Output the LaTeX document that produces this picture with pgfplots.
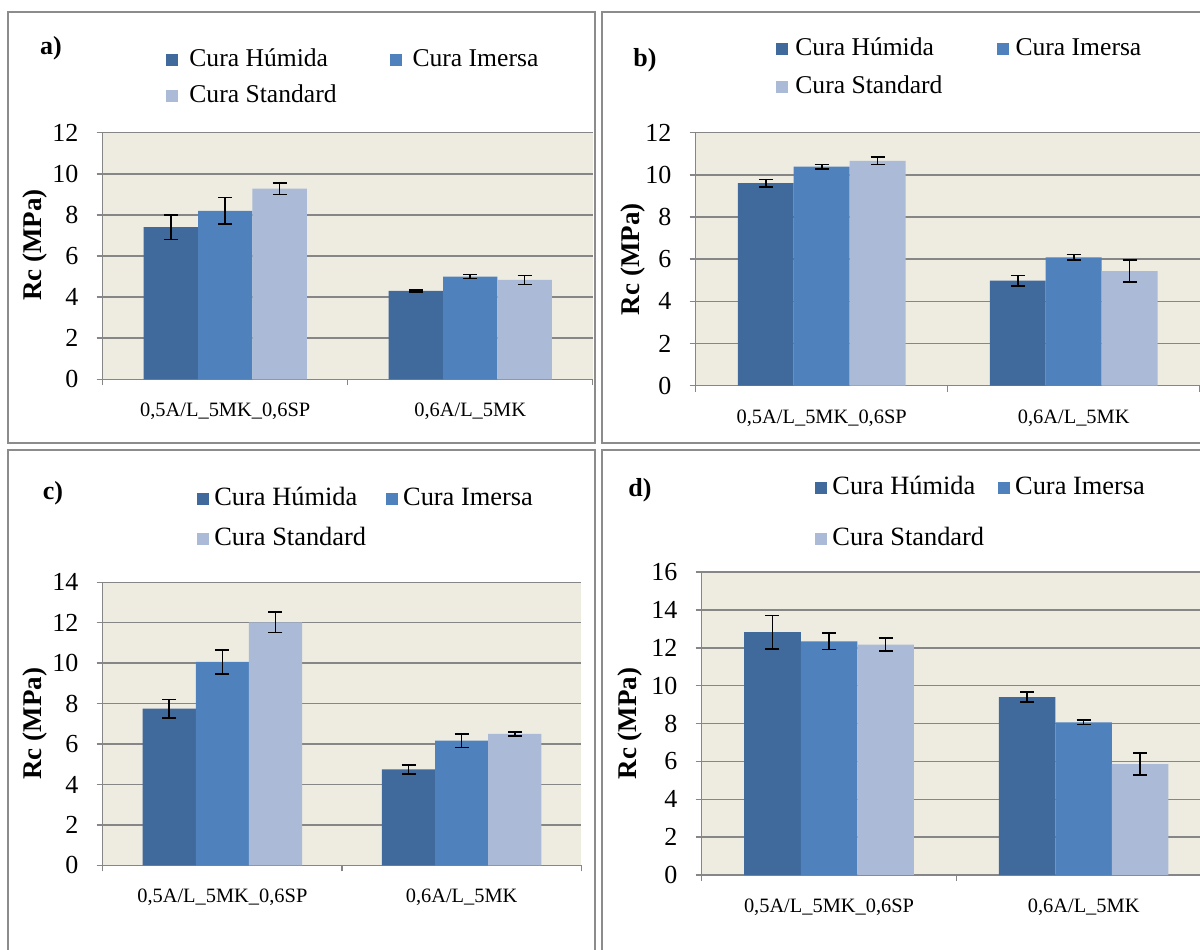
\documentclass[border=0pt]{standalone}
\usepackage{fontspec}
\setmainfont{Liberation Serif}
\usepackage{pgfplots}
\pgfplotsset{compat=1.18}
\definecolor{hum}{RGB}{64,105,156}
\definecolor{ime}{RGB}{79,129,189}
\definecolor{sta}{RGB}{170,186,215}
\definecolor{bgc}{RGB}{238,236,225}
\definecolor{gridc}{RGB}{134,134,134}
\definecolor{bord}{RGB}{140,140,140}
\pgfplotsset{
  panel/.style={
    scale only axis,
    ybar,
    xmin=-0.5, xmax=1.5, ymin=0,
    xtick={0,1},
    xticklabels={{0,5A/L\_5MK\_0,6SP},{0,6A/L\_5MK}},
    minor xtick={-0.5,0.5,1.5},
    major x tick style={draw=none},
    tick align=outside,
    major tick length=3pt, minor tick length=3pt,
    ytick distance=2,
    ymajorgrids,
    grid style={gridc, line width=0.75pt},
    axis x line*=bottom, axis y line*=left,
    axis line style={gridc, line width=0.75pt},
    tick style={gridc, line width=0.75pt},
    axis background/.style={fill=bgc},
    bar width=0.222,
    /pgf/number format/assume math mode=true,
    yticklabel style={font=\fontsize{13}{15}\selectfont, inner sep=0pt, xshift=-9pt},
    xticklabel style={font=\fontsize{10.2}{12}\selectfont, inner sep=0pt, anchor=north, yshift=-8.8pt},
    ylabel={\textbf{Rc (MPa)}},
    ylabel style={font=\fontsize{13.5}{15}\selectfont, anchor=center, rotate=0},
    error bars/y dir=both, error bars/y explicit,
    error bars/error bar style={black, line width=0.8pt},
    error bars/error mark options={black, rotate=90, mark size=3.5pt, line width=0.8pt},
    legend columns=2,
    legend cell align=left,
    legend image code/.code={\fill[##1] (0pt,0.3pt) rectangle (6pt,6.3pt);},
    legend style={draw=none, fill=none, inner sep=0pt, anchor=north west,
      font=\fontsize{12.8}{15}\selectfont,
      cells={anchor=base west},
      nodes={inner sep=0pt, text height=9pt, text depth=3pt}},
  },
  s1/.style={fill=hum, draw=none, bar shift=-0.222},
  s2/.style={fill=ime, draw=none, bar shift=0},
  s3/.style={fill=sta, draw=none, bar shift=0.222},
}
\begin{document}
\begin{tikzpicture}
\useasboundingbox (0,0) rectangle (600pt,-474.5pt);
\fill[white] (0,0) rectangle (600pt,-474.5pt);
\draw[bord, line width=0.75pt] (4pt,-6pt) rectangle (297.5pt,-221.5pt);
\draw[bord, line width=0.75pt] (301pt,-6pt) rectangle (606pt,-221.5pt);
\draw[bord, line width=0.75pt] (4pt,-225pt) rectangle (297.5pt,-480pt);
\draw[bord, line width=0.75pt] (301pt,-225pt) rectangle (606pt,-480pt);
\node[font=\fontsize{13}{15}\selectfont\bfseries] at (25.5pt,-24pt) {a)};
\node[font=\fontsize{13}{15}\selectfont\bfseries] at (322.5pt,-30pt) {b)};
\node[font=\fontsize{13}{15}\selectfont\bfseries] at (26.5pt,-246.5pt) {c)};
\node[font=\fontsize{13}{15}\selectfont\bfseries] at (320pt,-245pt) {d)};

% ---------- a ----------
\begin{axis}[panel, at={(51.35pt,-189.65pt)}, anchor=south west,
  width=245pt, height=123.3pt, ymax=12,
  ylabel style={at={(axis description cs:-0.139,0.545)}},
  legend style={at={(axis description cs:0.1292,1.3435)}, row sep=6pt,
    /tikz/every odd column/.append style={column sep=5.5pt},
    /tikz/every even column/.append style={column sep=26.5pt}}]
\addplot[s1] coordinates {(0,7.40) +- (0,0.60) (1,4.30) +- (0,0.04)};
\addplot[s2] coordinates {(0,8.20) +- (0,0.65) (1,5.00) +- (0,0.10)};
\addplot[s3] coordinates {(0,9.28) +- (0,0.28) (1,4.84) +- (0,0.22)};
\legend{Cura Húmida, Cura Imersa, Cura Standard}
\end{axis}

% ---------- b ----------
\begin{axis}[panel, at={(347.85pt,-192.85pt)}, anchor=south west,
  width=252pt, height=126.5pt, ymax=12,
  ylabel style={at={(axis description cs:-0.125,0.5)}},
  legend style={at={(axis description cs:0.1593,1.376)}, row sep=7pt,
    /tikz/every odd column/.append style={column sep=3.5pt},
    /tikz/every even column/.append style={column sep=27pt}}]
\addplot[s1] coordinates {(0,9.61) +- (0,0.18) (1,4.98) +- (0,0.24)};
\addplot[s2] coordinates {(0,10.39) +- (0,0.10) (1,6.09) +- (0,0.13)};
\addplot[s3] coordinates {(0,10.67) +- (0,0.17) (1,5.44) +- (0,0.53)};
\legend{Cura Húmida, Cura Imersa, Cura Standard}
\end{axis}

% ---------- c ----------
\begin{axis}[panel, at={(51.35pt,-432.65pt)}, anchor=south west,
  width=239.3pt, height=141.5pt, ymax=14,
  ylabel style={at={(axis description cs:-0.142,0.5)}},
  legend style={at={(axis description cs:0.197,1.335)}, row sep=8pt,
    font=\fontsize{13.2}{15}\selectfont,
    /tikz/every odd column/.append style={column sep=2.5pt},
    /tikz/every even column/.append style={column sep=10pt}}]
\addplot[s1] coordinates {(0,7.75) +- (0,0.45) (1,4.75) +- (0,0.22)};
\addplot[s2] coordinates {(0,10.06) +- (0,0.59) (1,6.17) +- (0,0.34)};
\addplot[s3] coordinates {(0,12.02) +- (0,0.51) (1,6.50) +- (0,0.10)};
\legend{Cura Húmida, Cura Imersa, Cura Standard}
\end{axis}

% ---------- d ----------
\begin{axis}[panel, at={(350.85pt,-437.5pt)}, anchor=south west,
  width=254.65pt, height=151.5pt, ymax=16,
  ylabel style={at={(axis description cs:-0.141,0.5)}},
  legend style={at={(axis description cs:0.2225,1.315)}, row sep=13.5pt,
    font=\fontsize{13.2}{15}\selectfont,
    /tikz/every odd column/.append style={column sep=2.5pt},
    /tikz/every even column/.append style={column sep=7pt}}]
\addplot[s1] coordinates {(0,12.82) +- (0,0.89) (1,9.40) +- (0,0.25)};
\addplot[s2] coordinates {(0,12.34) +- (0,0.44) (1,8.06) +- (0,0.12)};
\addplot[s3] coordinates {(0,12.17) +- (0,0.33) (1,5.86) +- (0,0.57)};
\legend{Cura Húmida, Cura Imersa, Cura Standard}
\end{axis}
\end{tikzpicture}
\end{document}
